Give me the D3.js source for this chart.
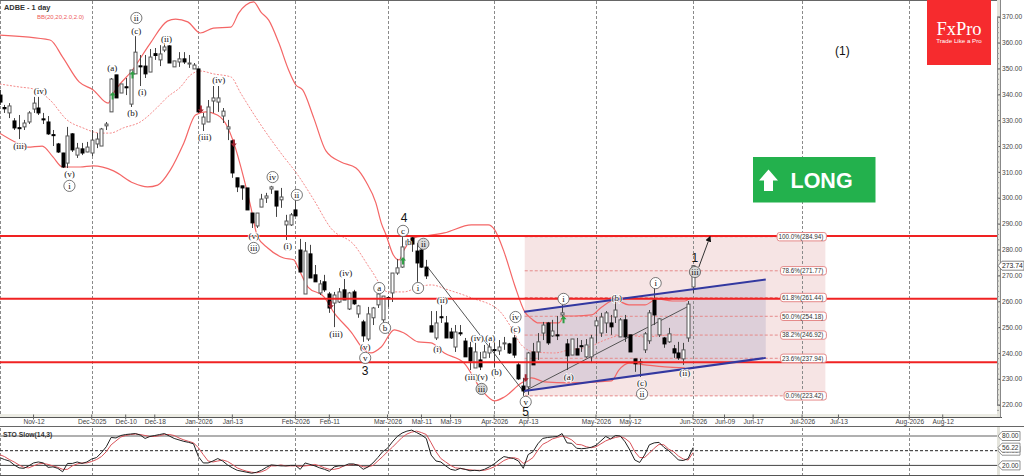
<!DOCTYPE html>
<html>
<head>
<meta charset="utf-8">
<script src="https://cdn.jsdelivr.net/npm/d3@7/dist/d3.min.js"></script>
<style>
  html, body { margin: 0; padding: 0; background: #fff; }
  svg { display: block; font-family: "Liberation Sans", Arial, sans-serif; }
</style>
</head>
<body>
<svg id="chart" width="1024" height="476"></svg>
<script>
// Daily ADBE candles, oldest first
const opens = [339.7,334.9,332.8,329.7,327.1,327.4,329.3,334.3,334.7,330.5,329.3,324.4,320.8,317.3,313.4,324.7,316.5,318.9,317.7,317.3,320.8,320.0,327.8,333.2,347.5,340.5,342.9,336.2,347.9,351.0,350.9,348.6,355.7,353.3,357.1,358.7,350.6,352.5,353.7,351.7,349.8,349.8,328.5,329.3,337.4,337.0,331.6,326.6,322.0,307.7,304.6,303.8,294.1,289.1,296.4,299.9,303.4,302.6,299.2,289.5,289.5,295.3,279.8,262.8,278.3,270.2,263.2,267.5,262.8,259.3,259.7,264.4,257.0,263.6,255.1,252.0,245.4,253.6,258.6,252.8,261.4,263.2,270.9,273.2,281.8,284.5,279.4,279.8,273.2,250.5,245.8,254.0,251.6,248.1,242.3,247.8,244.6,242.0,234.2,237.3,238.1,240.0,241.3,240.8,243.5,243.5,245.8,235.4,227.2,226.9,240.4,240.4,247.7,251.6,246.6,247.0,254.7,243.5,239.2,241.6,242.8,238.5,238.5,250.5,247.7,251.6,251.6,253.9,246.2,252.8,247.0,237.7,236.6,241.2,244.7,260.5,247.0,245.8,244.3,241.6,240.0,237.7,245.8,265.5];
const highs = [341.7,335.9,336.6,330.8,332.0,330.1,333.5,339.0,339.0,332.8,331.6,326.2,321.2,317.4,327.4,325.0,321.2,321.2,321.6,326.2,325.0,327.0,329.3,346.3,347.5,344.0,346.3,349.4,362.5,355.2,355.2,357.5,357.9,359.0,359.8,359.0,352.9,356.3,356.3,355.2,352.1,349.8,332.8,337.8,343.2,343.2,334.7,330.1,322.3,307.7,304.6,303.8,294.1,294.1,301.5,301.9,304.6,302.6,303.8,293.4,294.1,299.2,284.1,282.9,281.8,274.0,268.2,270.2,263.6,263.6,265.1,268.6,263.6,264.4,258.6,252.8,257.8,257.8,263.2,262.0,262.0,270.9,276.3,284.8,284.4,284.94,282.5,280.6,276.0,256.2,256.2,258.6,254.3,249.7,250.8,250.8,245.8,244.3,243.9,240.4,243.1,243.9,244.3,245.0,246.2,243.9,247.0,236.2,230.4,240.4,243.9,247.7,252.0,252.0,252.8,254.3,258.6,245.4,245.4,245.8,245.0,245.4,247.0,253.9,255.5,256.2,254.7,261.3,253.5,254.7,247.0,237.7,237.7,248.1,256.6,265.1,253.5,246.2,249.7,243.1,244.3,243.9,260.1,274.0];
const lows = [335.9,332.8,330.8,326.2,322.7,326.2,328.5,332.8,332.0,328.5,324.3,320.0,317.3,311.5,311.5,317.7,315.4,316.5,317.6,316.1,319.2,320.0,326.2,333.2,338.6,340.5,339.7,335.1,347.9,343.2,346.3,348.6,353.3,350.9,356.3,352.1,350.6,350.6,351.7,350.2,349.8,332.8,325.8,329.3,332.8,333.2,328.9,322.3,307.7,302.2,299.2,295.3,288.3,288.3,296.4,298.0,301.5,292.6,296.1,283.7,289.1,293.0,271.3,262.8,269.0,267.5,262.4,263.6,255.5,250.0,259.3,260.5,256.6,258.6,253.6,244.3,244.6,250.8,257.4,252.0,257.8,259.7,270.2,272.9,281.8,279.1,267.5,272.9,268.6,248.1,245.0,251.6,245.8,245.4,240.4,246.6,238.5,233.4,234.2,233.4,238.1,238.1,234.6,239.2,241.2,239.6,238.1,229.6,223.42,223.8,235.4,237.3,245.0,243.1,246.2,245.0,254.0,233.4,239.2,239.2,240.4,238.1,236.1,243.9,246.2,247.7,247.0,251.6,246.2,244.3,240.4,232.7,230.7,240.0,243.5,250.8,246.2,242.0,243.9,238.1,237.3,235.4,244.3,263.2];
const closes = [337.0,334.4,335.5,327.0,326.9,328.9,332.8,336.6,332.8,330.3,324.7,324.2,317.7,311.9,323.9,318.5,319.2,317.3,319.6,322.3,322.7,326.6,328.5,345.9,338.6,344.0,342.7,349.4,356.3,350.8,347.9,354.4,355.0,355.6,358.3,352.1,352.9,353.7,352.5,352.1,351.3,333.2,331.2,335.1,338.6,338.6,333.5,327.4,309.6,304.2,303.8,295.3,290.3,294.1,299.5,300.7,304.2,296.8,300.3,291.0,293.4,293.0,271.3,279.4,269.0,267.5,266.7,264.4,257.4,262.4,263.6,260.5,263.2,259.0,258.2,246.6,255.1,257.4,262.8,262.0,261.1,270.9,272.9,281.0,283.3,282.1,274.8,273.2,269.8,248.1,251.6,253.8,245.8,245.8,248.1,247.6,238.5,236.9,240.4,234.6,240.4,242.3,241.1,242.3,243.9,240.0,239.2,230.0,225.3,240.0,235.4,244.3,250.8,243.9,248.5,246.8,255.5,238.9,245.4,239.2,242.6,243.1,245.8,252.4,253.9,255.5,250.1,256.6,252.8,246.2,240.4,235.8,236.4,247.4,255.5,254.7,253.2,243.5,247.4,240.0,238.1,241.2,258.9,273.74];

// Bollinger band readings as bar number and price
const bbUpperBars = [0,10.4,13,16.4,19.3,22.4,23.5,27.4,31.1,34.6,36.3,38.8,41.4,44.1,47.7,49.3,50.8,52.4,53.9,55.5,57.6,59.6,61.1,62.5,64.8,67.3,70.4,73.5,75.6,77.6,78.7,79.7,81.2,82.4,83.4,85.5,87.6,91.7,97.3,100.8,102.1,104.1,106.2,108.3,109.7,111.1,115.3,116.5,118.6,122.1,124.2,126.9,129.8,133.1,135.6,138.7,141.3,142.4];
const bbUpperPrices = [362.9,361.0,354.4,344.8,341.7,336.6,340.5,349.4,359.8,368.3,369.1,368.0,363.7,365.6,366.0,371.4,374.5,375.7,371.8,368.7,359.8,349.4,343.6,341.7,330.8,318.1,313.8,311.5,306.1,298.0,290.3,285.6,277.9,276.0,279.8,284.5,285.2,286.4,289.5,289.5,287.6,278.7,266.3,255.9,253.2,251.6,251.6,254.3,254.3,254.7,257.8,260.5,258.6,258.6,260.9,260.1,260.1,261.3];
const bbMiddleBars = [0,4.2,6.9,10.4,13.9,17.2,20.8,22.8,25.5,29,32.6,34.6,37.3,39.4,41.4,44.1,47.7,49.7,53.9,58,61.5,64.8,68.3,73.1,76.6,80.1,83.4,86.3,89,92.5,97.3,102.9,105.6,107.6,110.3,114.5,117.4,121.5,124.8,128.9,133.1,138.7,142.2];
const bbMiddlePrices = [344.0,342.8,342.1,337.8,330.1,327.0,325.0,325.0,327.0,329.3,335.1,338.9,342.8,347.5,349.0,347.9,346.7,340.5,328.1,317.3,308.8,299.2,288.3,281.8,272.1,263.6,263.6,265.5,266.3,264.4,261.3,256.6,249.6,243.1,240.4,240.0,241.2,242.3,245.0,247.0,246.2,247.0,247.0];
const bbLowerBars = [0,3.6,5.7,8.8,11,13,16.6,19.3,23.5,27.6,30.5,32.6,35.2,38,40.4,42.5,44.9,47,48.3,50.3,51.8,53.2,55.3,58.6,60.7,61.5,63.6,66.9,69,72.5,75.2,76.6,78.7,81.4,83.4,86.3,89,91.7,95.8,99.4,102.1,104.1,107.6,109.7,112.4,117.4,126.2,127.7,129.8,133.1,137.2,141.3];
const bbLowerPrices = [325.0,321.2,319.6,320.0,315.8,311.9,311.9,312.3,310.4,305.7,304.2,304.9,310.7,321.2,332.0,333.2,332.0,327.4,321.2,308.0,296.5,284.9,280.6,276.7,276.0,273.2,265.5,261.7,255.5,248.1,241.2,240.0,242.3,248.9,247.7,244.3,243.9,240.0,236.1,225.7,221.5,223.0,228.4,230.4,228.8,228.4,229.2,233.4,236.1,235.4,234.6,234.2];

// Slow stochastic, one reading per bar
const stoK = [36,32,29,21,15,14,19,25,27,25,16,17,14,7,24,24,27,24,27,33,36,46,58,77,76,81,83,84,85,82,75,79,81,83,85,80,75,72,69,67,64,38,25,25,29,34,29,21,15,10,8,6,4,6,10,16,21,20,19,19,20,20,12,25,22,19,15,12,8,17,19,19,23,23,20,12,17,25,36,48,55,68,79,86,90,92,87,82,75,41,29,27,19,12,10,14,12,9,10,9,12,17,23,31,38,36,34,29,14,42,48,64,75,77,78,79,85,66,65,55,54,55,57,61,70,79,74,81,80,68,51,31,26,41,62,66,67,57,50,41,31,30,34,56.22];
const stoD = [42,38,32,27,21,16,15,19,23,24,22,19,16,12,12,19,23,25,25,28,32,38,48,62,70,78,81,83,84,83,81,79,79,81,83,83,81,76,72,69,66,56,42,29,27,29,31,28,22,15,11,8,6,5,7,11,19,19,21,19,19,19,18,19,20,22,19,15,12,12,14,19,21,22,21,17,17,20,29,38,48,57,67,77,84,88,90,87,83,66,48,34,27,20,15,14,12,11,10,10,10,13,17,23,30,34,36,33,24,29,36,51,63,68,74,77,80,77,72,63,62,58,56,58,64,70,74,77,79,75,67,48,36,36,45,55,63,62,53,48,39,33,31,46];

// Time axis labels and the bar each one sits on
const timeLabels = ["Nov-12","Dec-2025","Dec-10","Dec-18","Jan-2026","Jan-13","Feb-2026","Feb-11","Mar-2026","Mar-11","Mar-19","Apr-2026","Apr-13","May-2026","May-12","Jun-2026","Jun-09","Jun-17","Jul-2026","Jul-13","Aug-2026","Aug-12"];
const timeBars = [7,19,26,32,41,48,61,68,80,87,93,102,109,123,130,143,149.5,155.4,165.5,173,187.6,194.5];
const monthBars = [0,19,41,61,80,102,123,143,165.5,187.6];

const priceTicks = [370,360,350,340,330,320,310,300,290,280,270,260,250,240,230,220];
const lastPrice = 273.74;
const stoLevels = [80,50,20];
const stoLast = 56.22;

// Support and resistance lines
const levelPrices = [285.2,261.0,236.4];

// Fibonacci retracement of the drop
const fibPercents = ["100.0%","78.6%","61.8%","50.0%","38.2%","23.6%","0.0%"];
const fibPrices = [284.94,271.77,261.44,254.18,246.92,237.94,223.42];
const fibStartBar = 108.3;
const fibEndBar = 170.3;

// Rising channel: bars, upper edge prices, lower edge prices
const channelBars = [108.2,158];
const channelUpper = [255.9,268.4];
const channelLower = [225.3,238.1];

// Thin trend lines drawn between swing points
const trendLines = [
  {bars:[88.4,108.3], prices:[272.9,224.5]},
  {bars:[108.5,142.2], prices:[225.5,258.2]}
];
const targetArrow = {bars:[144.2,146.5], prices:[273.2,284.9]};

// Elliott wave labels: text, bar, price, ring style
const waveLabels = [
  ["(iii)",4.2,320.0,0],["(iv)",8.4,341.3,0],["(v)",14.4,309.2,0],["i",14.4,304.6,1],
  ["(a)",23.25,350.2,0],["(b)",27.4,332.8,0],["(c)",28.2,364.5,0],["ii",28.2,369.5,1],
  ["(i)",29.4,340.9,0],["(ii)",34.4,361.4,0],["(iii)",42.3,323.5,0],["(iv)",45.2,345.5,0],
  ["(v)",52.4,285.2,0],["iii",52.4,280.6,1],["(i)",59.4,281.4,0],["iv",56.3,308.0,1],["ii",61.3,301.1,1],
  ["(iii)",69.4,247.4,0],["(iv)",71.4,270.9,0],["a",78.3,265.1,1],["b",79.5,249.7,1],
  ["(v)",75.4,242.3,0],["v",75.4,238.1,1],["c",83.2,287.2,1],["b",84.5,282.9,0],
  ["ii",87.4,282.2,2],["i",86.3,265.1,1],["(ii)",91.3,260.5,0],["(i)",90.3,241.6,0],
  ["(iv)",98.5,245.8,0],["(iii)",97.3,230.7,0],["(v)",99.6,230.7,0],["iii",99.4,226.1,2],
  ["(a)",101.2,245.8,0],["(b)",102.5,232.7,0],["iv",106.4,253.9,1],["(c)",106.4,249.3,0],["v",108.5,221.1,1],
  ["i",116.3,260.9,1],["(a)",117.4,230.7,0],["(b)",127.3,261.3,0],["(c)",132.5,228.4,0],["ii",132.5,224.2,1],
  ["i",135.3,267.0,1],["(ii)",141.3,232.3,0],["iii",143.4,271.3,2]
];
const degreeLabels = [["3",75.4,233.1],["4",83.4,292.2],["5",108.5,217.2],["1",143.4,276.6],["(1)",173.8,356.7]];

// Signal arrows on candles
const buyBars = [23.3,27.4,83.2,116.3];
const buyPrices = [339.3,347.5,275.6,252.8];
const sellBars = [41.5,48.3,68.3,108.5];
const sellPrices = [334.3,321.2,258.6,230.4];

const W = 1024, H = 476;
const plotRight = 997, mainBottom = 414, stripBottom = 417.5, stoTop = 427, stoBottom = 475;
const svg = d3.select("#chart");

const x = d3.scaleLinear().domain([0,143]).range([-0.4,693]);
const y = d3.scaleLinear().domain([220,370]).range([404.7,16.7]);
const yS = d3.scaleLinear().domain([20,80]).range([465.4,436]);

const dark = "#3a3a3a", red = "#f02222";

// Time strip below the price pane
svg.append("rect").attr("x",0).attr("y",mainBottom).attr("width",plotRight).attr("height",stripBottom-mainBottom).attr("fill","#ececE4");
svg.append("rect").attr("x",plotRight).attr("y",0).attr("width",3).attr("height",stripBottom).attr("fill","#e4e4dc");
svg.append("rect").attr("x",plotRight).attr("y",stoTop).attr("width",3).attr("height",stoBottom-stoTop).attr("fill","#e4e4dc");

// Fibonacci block and the channel on top of it
const fibTop = y(fibPrices[0]), fibBottom = y(fibPrices[6]);
svg.append("rect").attr("x",x(fibStartBar)).attr("y",fibTop).attr("width",x(fibEndBar)-x(fibStartBar)).attr("height",fibBottom-fibTop).attr("fill","#f6e4e4");
const channelArea = d3.area().x(d=>x(d[0])).y0(d=>y(d[1])).y1(d=>y(d[2]));
svg.append("path").datum(channelBars.map((b,i)=>[b,channelUpper[i],channelLower[i]])).attr("d",channelArea).attr("fill","#c9bed0").attr("opacity",0.55);

// Month separators in both panes
const grid = svg.append("g").attr("stroke","#8a8a8a").attr("stroke-width",1).attr("stroke-dasharray","3,2");
monthBars.forEach(b => {
  const px = Math.round(x(b))+0.5;
  grid.append("line").attr("x1",px).attr("x2",px).attr("y1",1).attr("y2",mainBottom);
  grid.append("line").attr("x1",px).attr("x2",px).attr("y1",stoTop+1).attr("y2",stoBottom);
});

// Fibonacci levels
svg.append("g").selectAll("line").data(fibPrices).join("line")
  .attr("x1",x(fibStartBar)).attr("x2",x(fibEndBar)-10)
  .attr("y1",d=>y(d)).attr("y2",d=>y(d))
  .attr("stroke","#e58a8a").attr("stroke-width",1).attr("stroke-dasharray","3,2");

// Bollinger bands
const bandLine = d3.line().x(d=>x(d[0])).y(d=>y(d[1])).curve(d3.curveMonotoneX);
const zip = (a,b) => a.map((v,i)=>[v,b[i]]);
svg.append("path").attr("d",bandLine(zip(bbUpperBars,bbUpperPrices))).attr("fill","none").attr("stroke","#f46666").attr("stroke-width",1.2);
svg.append("path").attr("d",bandLine(zip(bbLowerBars,bbLowerPrices))).attr("fill","none").attr("stroke","#f46666").attr("stroke-width",1.2);
svg.append("path").attr("d",bandLine(zip(bbMiddleBars,bbMiddlePrices))).attr("fill","none").attr("stroke","#f58a8a").attr("stroke-width",1).attr("stroke-dasharray","2,1.5");

// Thin trend lines
svg.append("g").selectAll("line").data(trendLines).join("line")
  .attr("x1",d=>x(d.bars[0])).attr("x2",d=>x(d.bars[1]))
  .attr("y1",d=>y(d.prices[0])).attr("y2",d=>y(d.prices[1]))
  .attr("stroke","#555").attr("stroke-width",1);

// Candles
const candles = svg.append("g").selectAll("g").data(d3.range(opens.length)).join("g");
candles.append("line")
  .attr("x1",i=>Math.round(x(i))+0.5).attr("x2",i=>Math.round(x(i))+0.5)
  .attr("y1",i=>y(highs[i])).attr("y2",i=>y(lows[i]))
  .attr("stroke","#444").attr("stroke-width",1);
candles.append("rect")
  .attr("x",i=>Math.round(x(i))-1)
  .attr("width",3)
  .attr("y",i=>y(Math.max(opens[i],closes[i])))
  .attr("height",i=>Math.max(1,Math.abs(y(opens[i])-y(closes[i]))))
  .attr("fill",i=>closes[i]>=opens[i]?"#fff":"#000")
  .attr("stroke",i=>closes[i]>=opens[i]?"#555":"#000")
  .attr("stroke-width",1);

// Horizontal levels
svg.append("g").selectAll("line").data(levelPrices).join("line")
  .attr("x1",0).attr("x2",plotRight).attr("y1",d=>y(d)).attr("y2",d=>y(d))
  .attr("stroke",red).attr("stroke-width",2);

// Channel edges
[channelUpper,channelLower].forEach(edge => {
  svg.append("line").attr("x1",x(channelBars[0])).attr("x2",x(channelBars[1]))
    .attr("y1",y(edge[0])).attr("y2",y(edge[1]))
    .attr("stroke","#3238a0").attr("stroke-width",2);
});

// Target arrow beside the last candle
const defs = svg.append("defs");
defs.append("marker").attr("id","tip").attr("viewBox","0 0 10 10").attr("refX",8).attr("refY",5)
  .attr("markerWidth",6).attr("markerHeight",6).attr("orient","auto")
  .append("path").attr("d","M0,0L10,5L0,10Z").attr("fill","#111");
svg.append("line").attr("x1",x(targetArrow.bars[0])).attr("x2",x(targetArrow.bars[1]))
  .attr("y1",y(targetArrow.prices[0])).attr("y2",y(targetArrow.prices[1]))
  .attr("stroke","#333").attr("stroke-width",1).attr("marker-end","url(#tip)");

// Signal arrows
const arrowPath = "M0,-4L3,-0.5L1,-0.5L1,3.5L-1,3.5L-1,-0.5L-3,-0.5Z";
svg.append("g").selectAll("path").data(buyBars).join("path")
  .attr("d",arrowPath).attr("fill","#2e9e44")
  .attr("transform",(d,i)=>`translate(${x(d)},${y(buyPrices[i])})`);
svg.append("g").selectAll("path").data(sellBars).join("path")
  .attr("d",arrowPath).attr("fill","#a02430")
  .attr("transform",(d,i)=>`translate(${x(d)},${y(sellPrices[i])}) rotate(180)`);

// Wave labels
const serif = '"Liberation Serif","Times New Roman",serif';
const wave = svg.append("g").selectAll("g").data(waveLabels).join("g")
  .attr("transform",d=>`translate(${x(d[1])},${y(d[2])})`);
wave.filter(d=>d[3]>0).append("circle").attr("r",5.6)
  .attr("fill",d=>d[3]===2?"#d9d9d9":"#fff").attr("stroke","#555").attr("stroke-width",0.8);
wave.append("text").text(d=>d[0]).attr("text-anchor","middle").attr("dy","0.32em")
  .attr("font-family",serif).attr("font-size",9).attr("fill","#111")
  .attr("stroke","#fff").attr("stroke-width",d=>d[3]===0?1.5:0).attr("paint-order","stroke");
svg.append("g").selectAll("text").data(degreeLabels).join("text")
  .text(d=>d[0]).attr("x",d=>x(d[1])).attr("y",d=>y(d[2])).attr("dy","0.35em")
  .attr("text-anchor","middle").attr("font-size",12).attr("fill","#111");

// Fibonacci tags at the right of the block
const fibTags = svg.append("g").selectAll("g").data(fibPrices).join("g")
  .attr("transform",d=>`translate(${x(fibEndBar)},${y(d)})`);
fibTags.append("text").text((d,i)=>`${fibPercents[i]}(${d3.format(".2f")(d)})`)
  .attr("x",-2).attr("dy","0.35em").attr("text-anchor","end").attr("font-size",6.3).attr("fill","#333");
fibTags.each(function(){
  const g = d3.select(this), w = g.select("text").node().getComputedTextLength();
  g.insert("rect","text").attr("x",-w-3.5).attr("y",-4.2).attr("width",w+4.5).attr("height",8.4).attr("rx",2.5)
    .attr("fill","#fff").attr("stroke","#e58a8a").attr("stroke-width",1);
});

// Frame of the price pane
const frame = svg.append("g").attr("stroke",dark);
frame.append("line").attr("x1",0).attr("x2",plotRight).attr("y1",0.5).attr("y2",0.5).attr("stroke","#666");
frame.append("line").attr("x1",0).attr("x2",1002).attr("y1",stripBottom).attr("y2",stripBottom).attr("stroke","#555");
frame.append("line").attr("x1",0).attr("x2",1024).attr("y1",stoTop-0.5).attr("y2",stoTop-0.5).attr("stroke","#666");
frame.append("line").attr("x1",0).attr("x2",1024).attr("y1",stoBottom+0.5).attr("y2",stoBottom+0.5).attr("stroke","#555");
frame.append("line").attr("x1",plotRight+3.5).attr("x2",plotRight+3.5).attr("y1",0).attr("y2",stripBottom).attr("stroke","#888");

// Price axis with its fine ruler ticks
const priceAxis = svg.append("g").attr("transform",`translate(${plotRight},0)`)
  .call(d3.axisRight(y).tickValues(priceTicks).tickFormat(d3.format(".2f")).tickSize(3).tickPadding(2));
priceAxis.select(".domain").attr("stroke","#888");
priceAxis.selectAll("line").attr("stroke","#555");
priceAxis.selectAll("text").attr("font-size",6.6).attr("fill","#444").attr("font-family","Liberation Sans");
svg.append("g").attr("transform",`translate(${plotRight},0)`)
  .call(d3.axisRight(y).tickValues(d3.range(218,372,2)).tickFormat("").tickSize(2))
  .call(g=>g.select(".domain").remove())
  .selectAll("line").attr("stroke","#999");

// Time axis
const timeAxis = svg.append("g").attr("transform",`translate(0,${stripBottom})`)
  .call(d3.axisBottom(x).tickValues(timeBars).tickFormat((d,i)=>timeLabels[i]).tickSize(0).tickPadding(2.2));
timeAxis.select(".domain").remove();
timeAxis.selectAll("text").attr("font-size",6.6).attr("fill","#444").attr("font-family","Liberation Sans");
svg.append("g").selectAll("line").data(timeBars).join("line")
  .attr("x1",d=>x(d)).attr("x2",d=>x(d)).attr("y1",stripBottom-3).attr("y2",stripBottom+2).attr("stroke","#666");

// Last price tag
const tagPath = (py,w) => `M${plotRight+1},${py}L${plotRight+5},${py-4.5}L${plotRight+w},${py-4.5}L${plotRight+w},${py+4.5}L${plotRight+5},${py+4.5}Z`;
svg.append("path").attr("d",tagPath(y(lastPrice),27)).attr("fill","#fff").attr("stroke","#666").attr("stroke-width",0.8);
svg.append("text").text(d3.format(".2f")(lastPrice)).attr("x",plotRight+5).attr("y",y(lastPrice)).attr("dy","0.35em")
  .attr("font-size",6.8).attr("fill","#222");

// Stochastic pane
const stoLine = d3.line().x((d,i)=>x(i)).y(d=>yS(d));
svg.append("line").attr("x1",0).attr("x2",plotRight).attr("y1",yS(80)).attr("y2",yS(80)).attr("stroke","#b0b0b0").attr("stroke-width",2);
svg.append("line").attr("x1",0).attr("x2",plotRight).attr("y1",yS(50)).attr("y2",yS(50)).attr("stroke","#222").attr("stroke-width",1).attr("stroke-dasharray","3,2");
svg.append("line").attr("x1",0).attr("x2",plotRight).attr("y1",yS(20)).attr("y2",yS(20)).attr("stroke","#444").attr("stroke-width",1);
svg.append("path").attr("d",stoLine(stoD)).attr("fill","none").attr("stroke","#d9535a").attr("stroke-width",1);
svg.append("path").attr("d",stoLine(stoK)).attr("fill","none").attr("stroke","#222").attr("stroke-width",1);
stoLevels.concat([stoLast]).forEach(v => {
  svg.append("path").attr("d",tagPath(yS(v),23)).attr("fill","#fff").attr("stroke","#777").attr("stroke-width",0.8);
  svg.append("text").text(d3.format(".2f")(v)).attr("x",plotRight+5).attr("y",yS(v)).attr("dy","0.35em")
    .attr("font-size",6.6).attr("fill","#333");
});
svg.append("text").text("STO Slow(14,3)").attr("x",3).attr("y",437).attr("font-size",6.8).attr("font-weight","bold").attr("fill","#333");

// Chart captions
svg.append("text").text("ADBE - 1 day").attr("x",4).attr("y",10).attr("font-size",7.4).attr("font-weight","bold").attr("fill","#333");
svg.append("text").text("BB(20,20,2.0,2.0)").attr("x",37).attr("y",18.5).attr("font-size",6).attr("fill","#ee5a5a");

// Trade direction badge
svg.append("rect").attr("x",753).attr("y",157).attr("width",122.5).attr("height",45.5).attr("fill","#23b14d");
svg.append("path").attr("d","M768.5,169.5L778,180.5L773,180.5L773,191L764,191L764,180.5L759,180.5Z").attr("fill","#fff");
svg.append("text").text("LONG").attr("x",790.5).attr("y",188).attr("font-size",21.5).attr("font-weight","bold").attr("fill","#fff");

// Broker logo
svg.append("rect").attr("x",927).attr("y",0).attr("width",64).attr("height",65).attr("fill","#f62b2e");
svg.append("text").text("FxPro").attr("x",959).attr("y",35).attr("text-anchor","middle").attr("font-family",serif).attr("font-size",18.5).attr("fill","#fff");
svg.append("text").text("Trade Like a Pro").attr("x",959).attr("y",43).attr("text-anchor","middle").attr("font-size",6.2).attr("fill","#fff");
</script>
</body>
</html>
